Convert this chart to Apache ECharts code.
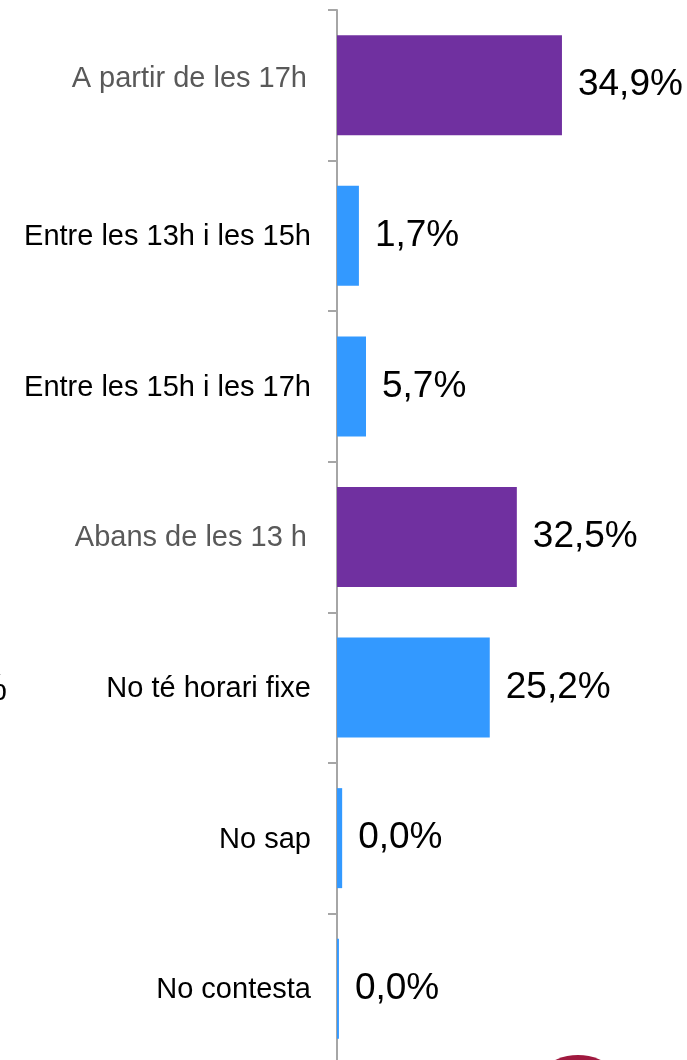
<!DOCTYPE html>
<html>
<head>
<meta charset="utf-8">
<script src="https://cdn.jsdelivr.net/npm/echarts@6/dist/echarts.min.js"></script>
<style>
  html, body { margin: 0; padding: 0; background: #ffffff; }
  #chart { width: 687px; height: 1060px; }
</style>
</head>
<body>
<div id="chart"></div>
<script>
// Categories (top to bottom)
const categories = [
  'A partir de les 17h',
  'Entre les 13h i les 15h',
  'Entre les 15h i les 17h',
  'Abans de les 13 h',
  'No té horari fixe',
  'No sap',
  'No contesta'
];
// Printed percentage labels
const labelValues = [34.9, 1.7, 5.7, 32.5, 25.2, 0.0, 0.0];
// Bar lengths as drawn in the picture (same units as the 34.9 bar)
const barLengths = [34.9, 3.4, 4.5, 27.9, 23.7, 0.8, 0.3];
// Categories highlighted in purple
const highlightedCategories = ['A partir de les 17h', 'Abans de les 13 h'];

const PURPLE = '#7030A0';
const BLUE = '#3399FF';
const GREY_TEXT = '#595959';
const AXIS_GREY = '#a6a6a6';
const FONT = "'Liberation Sans', Arial, Helvetica, sans-serif";

const fmt = v => v.toFixed(1).replace('.', ',') + '%';

const chart = echarts.init(document.getElementById('chart'), null, { renderer: 'canvas' });

const seriesData = barLengths.map((v, i) => ({
  value: v,
  itemStyle: { color: highlightedCategories.includes(categories[i]) ? PURPLE : BLUE }
}));

chart.setOption({
  animation: false,
  backgroundColor: '#ffffff',
  grid: { left: 337, top: 10, right: 0, height: 1054, containLabel: false, outerBoundsMode: 'none' },
  xAxis: {
    type: 'value',
    min: 0,
    max: 54.3,
    show: false
  },
  yAxis: {
    type: 'category',
    inverse: true,
    data: categories,
    axisLine: { show: true, lineStyle: { color: AXIS_GREY, width: 2 } },
    axisTick: { show: true, length: 9, lineStyle: { color: AXIS_GREY, width: 2 } },
    axisLabel: {
      fontSize: 29,
      fontFamily: FONT,
      color: '#000000',
      margin: 26,
      formatter: (value, index) => {
        if (!highlightedCategories.includes(value)) return '{n|' + value + '}';
        return (index === 0 ? '{up|' : '{g|') + value + '}';
      },
      rich: {
        n: { fontSize: 29, fontFamily: FONT, color: '#000000', padding: [3, 0, 0, 0] },
        g: { fontSize: 29, fontFamily: FONT, color: GREY_TEXT, padding: [2, 4, 0, 0] },
        up: { fontSize: 29, fontFamily: FONT, color: GREY_TEXT, padding: [0, 4, 12, 0] }
      }
    },
    splitLine: { show: false }
  },
  series: [{
    type: 'bar',
    data: seriesData,
    barWidth: 100,
    z: 1,
    label: {
      show: true,
      position: 'right',
      distance: 16,
      fontSize: 37,
      fontFamily: FONT,
      color: '#000000',
      padding: [6, 0, 0, 0],
      formatter: p => fmt(labelValues[p.dataIndex])
    }
  }],
  graphic: [
    {
      type: 'text',
      left: -25,
      top: 672,
      style: { text: '%', font: "36px 'Liberation Sans', Arial, sans-serif", fill: '#000000' }
    },
    {
      type: 'circle',
      shape: { cx: 578, cy: 1110, r: 55 },
      style: { fill: '#A0193F' }
    }
  ]
});
</script>
</body>
</html>
